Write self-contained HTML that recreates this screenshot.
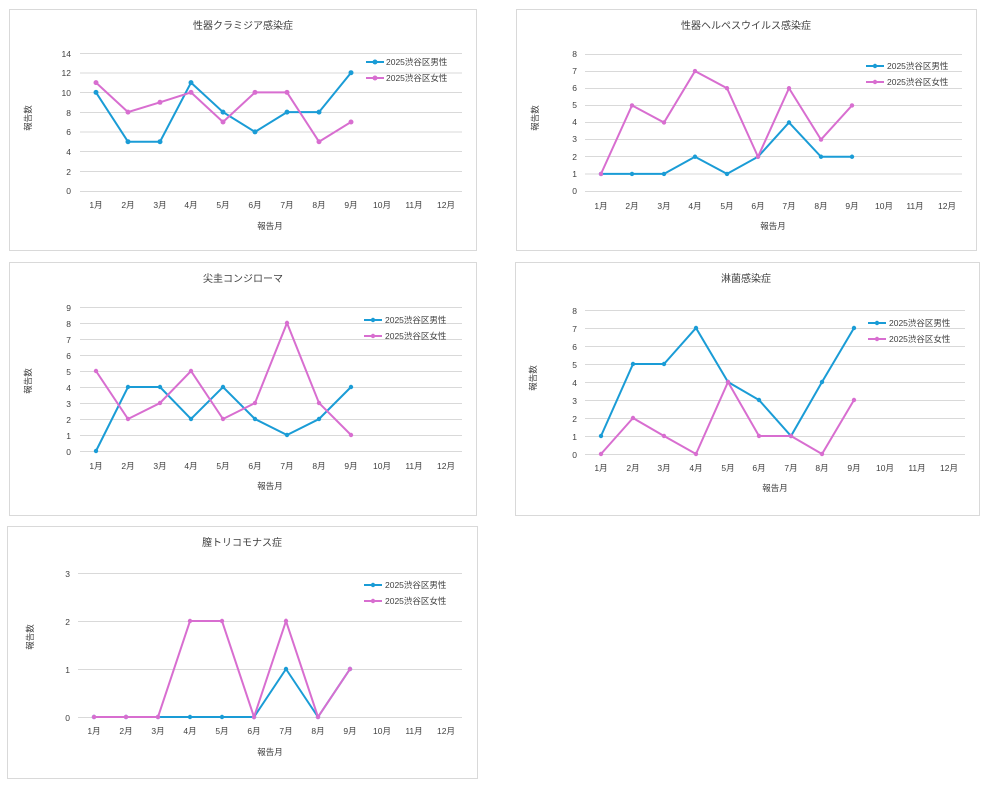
<!DOCTYPE html>
<html><head><meta charset="utf-8"><style>
html,body{margin:0;padding:0;background:#fff}
svg{display:block}
text{font-family:"Liberation Sans","Noto Sans CJK JP",sans-serif;fill:#404040}
.t{font-size:10px}
.k{font-size:8.5px}
.g{stroke:#d9d9d9;stroke-width:1}
.b{fill:none;stroke:#1a9cd6;stroke-width:2}
.p{fill:none;stroke:#d86ed0;stroke-width:2}
.bb{fill:#1a9cd6}.pp{fill:#d86ed0}
.box{fill:#fff;stroke:#d9d9d9;stroke-width:1}
</style></head><body>
<svg width="987" height="787" xmlns="http://www.w3.org/2000/svg">
<!-- Chart 1 -->
<rect class="box" x="9.5" y="9.5" width="467" height="241"/>
<text class="t" x="243" y="29" text-anchor="middle">性器クラミジア感染症</text>
<g>
<line class="g" x1="80" x2="462" y1="53.5" y2="53.5"/><line class="g" x1="80" x2="462" y1="73" y2="73"/><line class="g" x1="80" x2="462" y1="92.5" y2="92.5"/><line class="g" x1="80" x2="462" y1="112.5" y2="112.5"/><line class="g" x1="80" x2="462" y1="132" y2="132"/><line class="g" x1="80" x2="462" y1="151.5" y2="151.5"/><line class="g" x1="80" x2="462" y1="171.5" y2="171.5"/><line class="g" x1="80" x2="462" y1="191.5" y2="191.5"/>
</g>
<g class="k" text-anchor="end"><text x="71" y="57">14</text><text x="71" y="76">12</text><text x="71" y="96">10</text><text x="71" y="116">8</text><text x="71" y="135">6</text><text x="71" y="155">4</text><text x="71" y="175">2</text><text x="71" y="194">0</text></g>
<g class="k" text-anchor="middle"><text x="96" y="208">1月</text><text x="128" y="208">2月</text><text x="160" y="208">3月</text><text x="191" y="208">4月</text><text x="223" y="208">5月</text><text x="255" y="208">6月</text><text x="287" y="208">7月</text><text x="319" y="208">8月</text><text x="351" y="208">9月</text><text x="382" y="208">10月</text><text x="414" y="208">11月</text><text x="446" y="208">12月</text></g>
<text class="k" x="270" y="229" text-anchor="middle">報告月</text>
<text class="k" x="31" y="118" text-anchor="middle" transform="rotate(-90 31 118)">報告数</text>
<polyline class="b" points="96,92.4 128,141.7 160,141.7 191,82.6 223,112.1 255,131.9 287,112.1 319,112.1 351,72.7"/>
<g class="bb"><circle cx="96" cy="92.4" r="2.5"/><circle cx="128" cy="141.7" r="2.5"/><circle cx="160" cy="141.7" r="2.5"/><circle cx="191" cy="82.6" r="2.5"/><circle cx="223" cy="112.1" r="2.5"/><circle cx="255" cy="131.9" r="2.5"/><circle cx="287" cy="112.1" r="2.5"/><circle cx="319" cy="112.1" r="2.5"/><circle cx="351" cy="72.7" r="2.5"/></g>
<polyline class="p" points="96,82.6 128,112.1 160,102.3 191,92.4 223,122 255,92.4 287,92.4 319,141.7 351,122"/>
<g class="pp"><circle cx="96" cy="82.6" r="2.5"/><circle cx="128" cy="112.1" r="2.5"/><circle cx="160" cy="102.3" r="2.5"/><circle cx="191" cy="92.4" r="2.5"/><circle cx="223" cy="122" r="2.5"/><circle cx="255" cy="92.4" r="2.5"/><circle cx="287" cy="92.4" r="2.5"/><circle cx="319" cy="141.7" r="2.5"/><circle cx="351" cy="122" r="2.5"/></g>
<line class="b" x1="366" x2="384" y1="62" y2="62"/><circle class="bb" cx="375" cy="62" r="2.5"/><text class="k" x="386" y="65">2025渋谷区男性</text>
<line class="p" x1="366" x2="384" y1="78" y2="78"/><circle class="pp" cx="375" cy="78" r="2.5"/><text class="k" x="386" y="81">2025渋谷区女性</text>

<!-- Chart 2 -->
<rect class="box" x="516.5" y="9.5" width="460" height="241"/>
<text class="t" x="746" y="29" text-anchor="middle">性器ヘルペスウイルス感染症</text>
<g>
<line class="g" x1="585" x2="962" y1="54.5" y2="54.5"/><line class="g" x1="585" x2="962" y1="71.5" y2="71.5"/><line class="g" x1="585" x2="962" y1="88.5" y2="88.5"/><line class="g" x1="585" x2="962" y1="105.5" y2="105.5"/><line class="g" x1="585" x2="962" y1="122.5" y2="122.5"/><line class="g" x1="585" x2="962" y1="139.5" y2="139.5"/><line class="g" x1="585" x2="962" y1="156.5" y2="156.5"/><line class="g" x1="585" x2="962" y1="174" y2="174"/><line class="g" x1="585" x2="962" y1="191.5" y2="191.5"/>
</g>
<g class="k" text-anchor="end"><text x="577" y="57">8</text><text x="577" y="74">7</text><text x="577" y="91">6</text><text x="577" y="108">5</text><text x="577" y="125">4</text><text x="577" y="142">3</text><text x="577" y="160">2</text><text x="577" y="177">1</text><text x="577" y="194">0</text></g>
<g class="k" text-anchor="middle"><text x="601" y="209">1月</text><text x="632" y="209">2月</text><text x="664" y="209">3月</text><text x="695" y="209">4月</text><text x="727" y="209">5月</text><text x="758" y="209">6月</text><text x="789" y="209">7月</text><text x="821" y="209">8月</text><text x="852" y="209">9月</text><text x="884" y="209">10月</text><text x="915" y="209">11月</text><text x="947" y="209">12月</text></g>
<text class="k" x="773" y="229" text-anchor="middle">報告月</text>
<text class="k" x="538" y="118" text-anchor="middle" transform="rotate(-90 538 118)">報告数</text>
<polyline class="b" points="601,173.9 632,173.9 664,173.9 695,156.75 727,173.9 758,156.75 789,122.5 821,156.75 852,156.75"/>
<g class="bb"><circle cx="601" cy="173.9" r="2.2"/><circle cx="632" cy="173.9" r="2.2"/><circle cx="664" cy="173.9" r="2.2"/><circle cx="695" cy="156.75" r="2.2"/><circle cx="727" cy="173.9" r="2.2"/><circle cx="758" cy="156.75" r="2.2"/><circle cx="789" cy="122.5" r="2.2"/><circle cx="821" cy="156.75" r="2.2"/><circle cx="852" cy="156.75" r="2.2"/></g>
<polyline class="p" points="601,173.9 632,105.4 664,122.5 695,71.1 727,88.25 758,156.75 789,88.25 821,139.6 852,105.4"/>
<g class="pp"><circle cx="601" cy="173.9" r="2.2"/><circle cx="632" cy="105.4" r="2.2"/><circle cx="664" cy="122.5" r="2.2"/><circle cx="695" cy="71.1" r="2.2"/><circle cx="727" cy="88.25" r="2.2"/><circle cx="758" cy="156.75" r="2.2"/><circle cx="789" cy="88.25" r="2.2"/><circle cx="821" cy="139.6" r="2.2"/><circle cx="852" cy="105.4" r="2.2"/></g>
<line class="b" x1="866" x2="884" y1="66" y2="66"/><circle class="bb" cx="875" cy="66" r="2.2"/><text class="k" x="887" y="69">2025渋谷区男性</text>
<line class="p" x1="866" x2="884" y1="82" y2="82"/><circle class="pp" cx="875" cy="82" r="2.2"/><text class="k" x="887" y="85">2025渋谷区女性</text>

<!-- Chart 3 -->
<rect class="box" x="9.5" y="262.5" width="467" height="253"/>
<text class="t" x="243" y="282" text-anchor="middle">尖圭コンジローマ</text>
<g>
<line class="g" x1="80" x2="462" y1="307.5" y2="307.5"/><line class="g" x1="80" x2="462" y1="323.5" y2="323.5"/><line class="g" x1="80" x2="462" y1="339.5" y2="339.5"/><line class="g" x1="80" x2="462" y1="355.5" y2="355.5"/><line class="g" x1="80" x2="462" y1="371.5" y2="371.5"/><line class="g" x1="80" x2="462" y1="387.5" y2="387.5"/><line class="g" x1="80" x2="462" y1="403.5" y2="403.5"/><line class="g" x1="80" x2="462" y1="419.5" y2="419.5"/><line class="g" x1="80" x2="462" y1="435.5" y2="435.5"/><line class="g" x1="80" x2="462" y1="451.5" y2="451.5"/>
</g>
<g class="k" text-anchor="end"><text x="71" y="311">9</text><text x="71" y="327">8</text><text x="71" y="343">7</text><text x="71" y="359">6</text><text x="71" y="375">5</text><text x="71" y="391">4</text><text x="71" y="407">3</text><text x="71" y="423">2</text><text x="71" y="439">1</text><text x="71" y="455">0</text></g>
<g class="k" text-anchor="middle"><text x="96" y="469">1月</text><text x="128" y="469">2月</text><text x="160" y="469">3月</text><text x="191" y="469">4月</text><text x="223" y="469">5月</text><text x="255" y="469">6月</text><text x="287" y="469">7月</text><text x="319" y="469">8月</text><text x="351" y="469">9月</text><text x="382" y="469">10月</text><text x="414" y="469">11月</text><text x="446" y="469">12月</text></g>
<text class="k" x="270" y="489" text-anchor="middle">報告月</text>
<text class="k" x="31" y="381" text-anchor="middle" transform="rotate(-90 31 381)">報告数</text>
<polyline class="b" points="96,451 128,387 160,387 191,419 223,387 255,419 287,435 319,419 351,387"/>
<g class="bb"><circle cx="96" cy="451" r="2.2"/><circle cx="128" cy="387" r="2.2"/><circle cx="160" cy="387" r="2.2"/><circle cx="191" cy="419" r="2.2"/><circle cx="223" cy="387" r="2.2"/><circle cx="255" cy="419" r="2.2"/><circle cx="287" cy="435" r="2.2"/><circle cx="319" cy="419" r="2.2"/><circle cx="351" cy="387" r="2.2"/></g>
<polyline class="p" points="96,371 128,419 160,403 191,371 223,419 255,403 287,323 319,403 351,435"/>
<g class="pp"><circle cx="96" cy="371" r="2.2"/><circle cx="128" cy="419" r="2.2"/><circle cx="160" cy="403" r="2.2"/><circle cx="191" cy="371" r="2.2"/><circle cx="223" cy="419" r="2.2"/><circle cx="255" cy="403" r="2.2"/><circle cx="287" cy="323" r="2.2"/><circle cx="319" cy="403" r="2.2"/><circle cx="351" cy="435" r="2.2"/></g>
<line class="b" x1="364" x2="382" y1="320" y2="320"/><circle class="bb" cx="373" cy="320" r="2.2"/><text class="k" x="385" y="323">2025渋谷区男性</text>
<line class="p" x1="364" x2="382" y1="336" y2="336"/><circle class="pp" cx="373" cy="336" r="2.2"/><text class="k" x="385" y="339">2025渋谷区女性</text>

<!-- Chart 4 -->
<rect class="box" x="515.5" y="262.5" width="464" height="253"/>
<text class="t" x="746" y="282" text-anchor="middle">淋菌感染症</text>
<g>
<line class="g" x1="585" x2="965" y1="310.5" y2="310.5"/><line class="g" x1="585" x2="965" y1="328.5" y2="328.5"/><line class="g" x1="585" x2="965" y1="346.5" y2="346.5"/><line class="g" x1="585" x2="965" y1="364.5" y2="364.5"/><line class="g" x1="585" x2="965" y1="382.5" y2="382.5"/><line class="g" x1="585" x2="965" y1="400.5" y2="400.5"/><line class="g" x1="585" x2="965" y1="418.5" y2="418.5"/><line class="g" x1="585" x2="965" y1="436.5" y2="436.5"/><line class="g" x1="585" x2="965" y1="454.5" y2="454.5"/>
</g>
<g class="k" text-anchor="end"><text x="577" y="314">8</text><text x="577" y="332">7</text><text x="577" y="350">6</text><text x="577" y="368">5</text><text x="577" y="386">4</text><text x="577" y="404">3</text><text x="577" y="422">2</text><text x="577" y="440">1</text><text x="577" y="458">0</text></g>
<g class="k" text-anchor="middle"><text x="601" y="471">1月</text><text x="633" y="471">2月</text><text x="664" y="471">3月</text><text x="696" y="471">4月</text><text x="728" y="471">5月</text><text x="759" y="471">6月</text><text x="791" y="471">7月</text><text x="822" y="471">8月</text><text x="854" y="471">9月</text><text x="885" y="471">10月</text><text x="917" y="471">11月</text><text x="949" y="471">12月</text></g>
<text class="k" x="775" y="491" text-anchor="middle">報告月</text>
<text class="k" x="536" y="378" text-anchor="middle" transform="rotate(-90 536 378)">報告数</text>
<polyline class="b" points="601,436 633,364 664,364 696,328 728,382 759,400 791,436 822,382 854,328"/>
<g class="bb"><circle cx="601" cy="436" r="2.2"/><circle cx="633" cy="364" r="2.2"/><circle cx="664" cy="364" r="2.2"/><circle cx="696" cy="328" r="2.2"/><circle cx="728" cy="382" r="2.2"/><circle cx="759" cy="400" r="2.2"/><circle cx="791" cy="436" r="2.2"/><circle cx="822" cy="382" r="2.2"/><circle cx="854" cy="328" r="2.2"/></g>
<polyline class="p" points="601,454 633,418 664,436 696,454 728,382 759,436 791,436 822,454 854,400"/>
<g class="pp"><circle cx="601" cy="454" r="2.2"/><circle cx="633" cy="418" r="2.2"/><circle cx="664" cy="436" r="2.2"/><circle cx="696" cy="454" r="2.2"/><circle cx="728" cy="382" r="2.2"/><circle cx="759" cy="436" r="2.2"/><circle cx="791" cy="436" r="2.2"/><circle cx="822" cy="454" r="2.2"/><circle cx="854" cy="400" r="2.2"/></g>
<line class="b" x1="868" x2="886" y1="323" y2="323"/><circle class="bb" cx="877" cy="323" r="2.2"/><text class="k" x="889" y="326">2025渋谷区男性</text>
<line class="p" x1="868" x2="886" y1="339" y2="339"/><circle class="pp" cx="877" cy="339" r="2.2"/><text class="k" x="889" y="342">2025渋谷区女性</text>

<!-- Chart 5 -->
<rect class="box" x="7.5" y="526.5" width="470" height="252"/>
<text class="t" x="242" y="546" text-anchor="middle">膣トリコモナス症</text>
<g>
<line class="g" x1="78" x2="462" y1="573.5" y2="573.5"/><line class="g" x1="78" x2="462" y1="621.5" y2="621.5"/><line class="g" x1="78" x2="462" y1="669.5" y2="669.5"/><line class="g" x1="78" x2="462" y1="717.5" y2="717.5"/>
</g>
<g class="k" text-anchor="end"><text x="70" y="577">3</text><text x="70" y="625">2</text><text x="70" y="673">1</text><text x="70" y="721">0</text></g>
<g class="k" text-anchor="middle"><text x="94" y="734">1月</text><text x="126" y="734">2月</text><text x="158" y="734">3月</text><text x="190" y="734">4月</text><text x="222" y="734">5月</text><text x="254" y="734">6月</text><text x="286" y="734">7月</text><text x="318" y="734">8月</text><text x="350" y="734">9月</text><text x="382" y="734">10月</text><text x="414" y="734">11月</text><text x="446" y="734">12月</text></g>
<text class="k" x="270" y="755" text-anchor="middle">報告月</text>
<text class="k" x="33" y="637" text-anchor="middle" transform="rotate(-90 33 637)">報告数</text>
<polyline class="b" points="94,717 126,717 158,717 190,717 222,717 254,717 286,669 318,717 350,669"/>
<g class="bb"><circle cx="94" cy="717" r="2.2"/><circle cx="126" cy="717" r="2.2"/><circle cx="158" cy="717" r="2.2"/><circle cx="190" cy="717" r="2.2"/><circle cx="222" cy="717" r="2.2"/><circle cx="254" cy="717" r="2.2"/><circle cx="286" cy="669" r="2.2"/><circle cx="318" cy="717" r="2.2"/><circle cx="350" cy="669" r="2.2"/></g>
<polyline class="p" points="94,717 126,717 158,717 190,621 222,621 254,717 286,621 318,717 350,669"/>
<g class="pp"><circle cx="94" cy="717" r="2.2"/><circle cx="126" cy="717" r="2.2"/><circle cx="158" cy="717" r="2.2"/><circle cx="190" cy="621" r="2.2"/><circle cx="222" cy="621" r="2.2"/><circle cx="254" cy="717" r="2.2"/><circle cx="286" cy="621" r="2.2"/><circle cx="318" cy="717" r="2.2"/><circle cx="350" cy="669" r="2.2"/></g>
<line class="b" x1="364" x2="382" y1="585" y2="585"/><circle class="bb" cx="373" cy="585" r="2.2"/><text class="k" x="385" y="588">2025渋谷区男性</text>
<line class="p" x1="364" x2="382" y1="601" y2="601"/><circle class="pp" cx="373" cy="601" r="2.2"/><text class="k" x="385" y="604">2025渋谷区女性</text>
</svg>
</body></html>
